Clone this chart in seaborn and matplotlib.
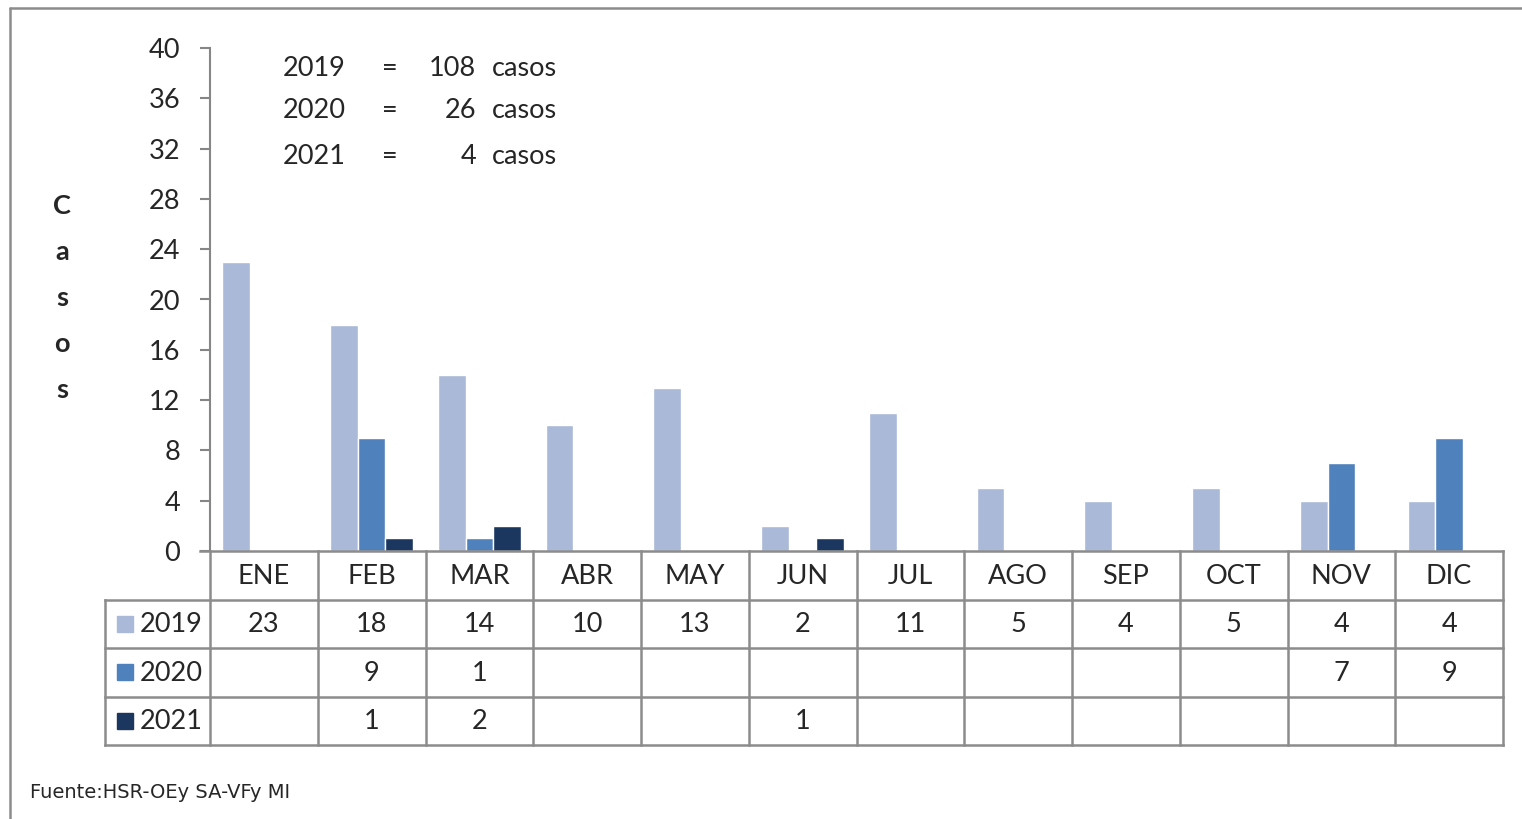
import matplotlib
matplotlib.use("Agg")
import matplotlib.pyplot as plt
import seaborn as sns
import pandas as pd
import numpy as np
from matplotlib.lines import Line2D
from matplotlib.patches import Rectangle

# ---- data ----
months = ["ENE", "FEB", "MAR", "ABR", "MAY", "JUN", "JUL", "AGO", "SEP", "OCT", "NOV", "DIC"]
years = ["2019", "2020", "2021"]
cases_2019 = [23, 18, 14, 10, 13, 2, 11, 5, 4, 5, 4, 4]
cases_2020 = [None, 9, 1, None, None, None, None, None, None, None, 7, 9]
cases_2021 = [None, 1, 2, None, None, 1, None, None, None, None, None, None]
totals = [108, 26, 4]
yticks = list(range(0, 41, 4))
colors = ["#AAB9D7", "#4F81BD", "#1B375F"]
series = [cases_2019, cases_2020, cases_2021]

rows = []
for y, vals in zip(years, series):
    for m, v in zip(months, vals):
        rows.append({"mes": m, "anio": y, "casos": np.nan if v is None else v})
df = pd.DataFrame(rows)

W, H = 1522, 819
FS = 19.5
fig = plt.figure(figsize=(W / 100, H / 100), dpi=100)
sns.set_style("white")
plt.rcParams["font.family"] = ["Lato", "DejaVu Sans"]

x0, x1, ytop, ybot = 210, 1503, 48, 551
ax = fig.add_axes([x0 / W, 1 - ybot / H, (x1 - x0) / W, (ybot - ytop) / H])
sns.barplot(data=df, x="mes", y="casos", hue="anio", order=months, hue_order=years,
            palette=colors, width=0.77, ax=ax, legend=False, saturation=1)
ax.set_xlim(-0.5, 11.5)
ax.set_ylim(0, 40)
ax.set_yticks(yticks)
ax.set_yticklabels([str(t) for t in yticks], fontsize=FS)
ax.set_xticks([])
ax.set_xlabel("")
ax.set_ylabel("")
for s in ["top", "right"]:
    ax.spines[s].set_visible(False)
gray = "#868686"
ax.spines["left"].set_color(gray)
ax.spines["left"].set_linewidth(1.5)
ax.spines["bottom"].set_visible(False)
ax.tick_params(axis="y", left=True, length=7.5, width=1.5, color=gray, direction="out", pad=14)
ax.patch.set_alpha(0)

# summary text
for i, (y, t) in enumerate(zip(years, totals)):
    yy = [68, 111, 157][i]
    fig.text(283 / W, 1 - yy / H, y, fontsize=FS, va="center", ha="left")
    fig.text(390 / W, 1 - yy / H, "=", fontsize=FS, va="center", ha="center")
    fig.text(476 / W, 1 - yy / H, str(t), fontsize=FS, va="center", ha="right")
    fig.text(492 / W, 1 - yy / H, "casos", fontsize=FS, va="center", ha="left")

# vertical y label
for i, ch in enumerate("Casos"):
    fig.text(62 / W, 1 - (206 + i * 46) / H, ch, fontsize=FS, fontweight="bold",
             ha="center", va="center")

# ---- data table ----
pxu = (x1 - x0) / 12.0
tl = 105
t_ylo, t_yhi = 551, 745
tab = fig.add_axes([tl / W, 1 - t_yhi / H, (x1 - tl) / W, (t_yhi - t_ylo) / H])
xmin = -0.5 - (x0 - tl) / pxu
tab.set_xlim(xmin, 11.5)
tab.set_ylim(4, 0)
tab.axis("off")
lc = "#8C8C8C"
lw = 1.8
kw = dict(color=lc, lw=lw, solid_capstyle="projecting", clip_on=False)
ax.add_line(Line2D([-0.5 - 10 / pxu, 11.5], [0, 0], **kw))
for r in [1, 2, 3, 4]:
    tab.add_line(Line2D([xmin, 11.5], [r, r], **kw))
for k in range(13):
    tab.add_line(Line2D([k - 0.5, k - 0.5], [0, 4], **kw))
tab.add_line(Line2D([xmin, xmin], [1, 4], **kw))
for k, m in enumerate(months):
    tab.text(k, 0.52, m, ha="center", va="center", fontsize=FS)
for r, (y, vals, c) in enumerate(zip(years, series, colors), start=1):
    kx = xmin + 12 / pxu
    tab.add_patch(Rectangle((kx, r + 0.5 - 0.17), 16 / pxu, 0.34, color=c, clip_on=False))
    tab.text(xmin + 35 / pxu, r + 0.52, y, ha="left", va="center", fontsize=FS)
    for k, v in enumerate(vals):
        if v is not None:
            tab.text(k, r + 0.52, str(v), ha="center", va="center", fontsize=FS)

# outer frame
fig.add_artist(Line2D([10 / W, 10 / W], [1 - 8 / H, -0.1], color="#8C8C8C", lw=1.8))
fig.add_artist(Line2D([10 / W, 1.1], [1 - 8 / H, 1 - 8 / H], color="#8C8C8C", lw=1.8))

fig.text(30 / W, 1 - 793 / H, "Fuente:HSR-OEy SA-VFy MI", fontsize=14,
         family="DejaVu Sans", ha="left", va="center")

fig.savefig("out.png", dpi=100)
